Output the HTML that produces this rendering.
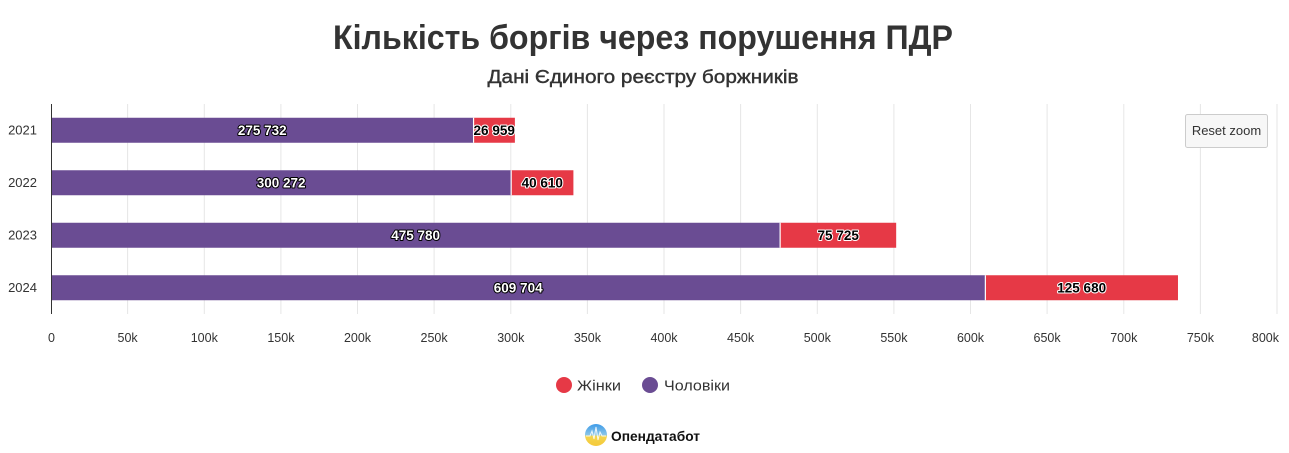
<!DOCTYPE html>
<html>
<head>
<meta charset="utf-8">
<style>
  html, body { margin: 0; padding: 0; background: #ffffff; }
  body { width: 1289px; height: 453px; overflow: hidden; }
  svg { display: block; font-family: "Liberation Sans", "DejaVu Sans", sans-serif; }
  .dl { font-size: 13.5px; font-weight: bold; paint-order: stroke fill; stroke-linejoin: round; }
  .dlw { fill: #ffffff; stroke: #000000; stroke-width: 2px; }
  .dlb { fill: #000000; stroke: #ffffff; stroke-width: 2px; }
  .ax { font-size: 12.5px; fill: #333333; }
</style>
</head>
<body>
<svg width="1289" height="453" viewBox="0 0 1289 453" xmlns="http://www.w3.org/2000/svg">
  <defs>
    <linearGradient id="lg" x1="0" y1="0" x2="0" y2="1">
      <stop offset="0" stop-color="#3d9be9"/>
      <stop offset="0.5" stop-color="#8cc6e8"/>
      <stop offset="0.55" stop-color="#f3d54e"/>
      <stop offset="1" stop-color="#f5c93a"/>
    </linearGradient>
  </defs>
  <rect width="1289" height="453" fill="#ffffff"/>

  <!-- Title -->
  <text x="643" y="49" text-anchor="middle" font-size="34" font-weight="bold" fill="#333333" textLength="620" lengthAdjust="spacingAndGlyphs">Кількість боргів через порушення ПДР</text>
  <text x="643" y="83" text-anchor="middle" font-size="18" fill="#333333" stroke="#333333" stroke-width="0.4" textLength="311" lengthAdjust="spacingAndGlyphs">Дані Єдиного реєстру боржників</text>

  <!-- Grid lines -->
  <g stroke="#e6e6e6" stroke-width="1">
    <line x1="127.6" y1="104" x2="127.6" y2="314"/>
    <line x1="204.3" y1="104" x2="204.3" y2="314"/>
    <line x1="280.9" y1="104" x2="280.9" y2="314"/>
    <line x1="357.5" y1="104" x2="357.5" y2="314"/>
    <line x1="434.1" y1="104" x2="434.1" y2="314"/>
    <line x1="510.8" y1="104" x2="510.8" y2="314"/>
    <line x1="587.4" y1="104" x2="587.4" y2="314"/>
    <line x1="664.0" y1="104" x2="664.0" y2="314"/>
    <line x1="740.6" y1="104" x2="740.6" y2="314"/>
    <line x1="817.3" y1="104" x2="817.3" y2="314"/>
    <line x1="893.9" y1="104" x2="893.9" y2="314"/>
    <line x1="970.5" y1="104" x2="970.5" y2="314"/>
    <line x1="1047.1" y1="104" x2="1047.1" y2="314"/>
    <line x1="1123.8" y1="104" x2="1123.8" y2="314"/>
    <line x1="1200.4" y1="104" x2="1200.4" y2="314"/>
    <line x1="1277.0" y1="104" x2="1277.0" y2="314"/>
  </g>

  <!-- Bars -->
  <g>
    <rect x="51" y="117.75" width="422.56" height="25" fill="#6a4c93"/>
    <rect x="473.56" y="117.75" width="41.32" height="25" fill="#e63946"/>
    <line x1="473.56" y1="117.75" x2="473.56" y2="142.75" stroke="#ffffff" stroke-width="1.2"/>
    <rect x="51" y="170.25" width="460.17" height="25" fill="#6a4c93"/>
    <rect x="511.17" y="170.25" width="62.23" height="25" fill="#e63946"/>
    <line x1="511.17" y1="170.25" x2="511.17" y2="195.25" stroke="#ffffff" stroke-width="1.2"/>
    <rect x="51" y="222.75" width="729.13" height="25" fill="#6a4c93"/>
    <rect x="780.13" y="222.75" width="116.05" height="25" fill="#e63946"/>
    <line x1="780.13" y1="222.75" x2="780.13" y2="247.75" stroke="#ffffff" stroke-width="1.2"/>
    <rect x="51" y="275.25" width="934.37" height="25" fill="#6a4c93"/>
    <rect x="985.37" y="275.25" width="192.61" height="25" fill="#e63946"/>
    <line x1="985.37" y1="275.25" x2="985.37" y2="300.25" stroke="#ffffff" stroke-width="1.2"/>
  </g>

  <!-- Axis line -->
  <line x1="51.5" y1="104" x2="51.5" y2="314" stroke="#333333" stroke-width="1"/>

  <!-- Data labels -->
  <g text-anchor="middle">
    <text class="dl dlw" x="262.3" y="135">275 732</text>
    <text class="dl dlb" x="494.2" y="135">26 959</text>
    <text class="dl dlw" x="281.1" y="187.5">300 272</text>
    <text class="dl dlb" x="542.3" y="187.5">40 610</text>
    <text class="dl dlw" x="415.6" y="240">475 780</text>
    <text class="dl dlb" x="838.2" y="240">75 725</text>
    <text class="dl dlw" x="518.2" y="292.5">609 704</text>
    <text class="dl dlb" x="1081.7" y="292.5">125 680</text>
  </g>

  <!-- Y axis labels -->
  <g class="ax" text-anchor="end" style="font-size:13px">
    <text x="37" y="134.5">2021</text>
    <text x="37" y="187">2022</text>
    <text x="37" y="239.5">2023</text>
    <text x="37" y="292">2024</text>
  </g>

  <!-- X axis labels -->
  <g class="ax" text-anchor="middle">
    <text x="51.5" y="342">0</text>
    <text x="127.6" y="342">50k</text>
    <text x="204.3" y="342">100k</text>
    <text x="280.9" y="342">150k</text>
    <text x="357.5" y="342">200k</text>
    <text x="434.1" y="342">250k</text>
    <text x="510.8" y="342">300k</text>
    <text x="587.4" y="342">350k</text>
    <text x="664.0" y="342">400k</text>
    <text x="740.6" y="342">450k</text>
    <text x="817.3" y="342">500k</text>
    <text x="893.9" y="342">550k</text>
    <text x="970.5" y="342">600k</text>
    <text x="1047.1" y="342">650k</text>
    <text x="1123.8" y="342">700k</text>
    <text x="1200.4" y="342">750k</text>
    <text x="1279" y="342" text-anchor="end">800k</text>
  </g>

  <!-- Reset zoom button -->
  <rect x="1185.5" y="114.5" width="82" height="33" rx="2" ry="2" fill="#f7f7f7" stroke="#cccccc" stroke-width="1"/>
  <text x="1226.5" y="135" text-anchor="middle" font-size="13" fill="#333333">Reset zoom</text>

  <!-- Legend -->
  <circle cx="564" cy="385" r="8" fill="#e63946"/>
  <text x="577" y="390.5" font-size="15" fill="#333333" textLength="44" lengthAdjust="spacingAndGlyphs">Жінки</text>
  <circle cx="650" cy="385" r="8" fill="#6a4c93"/>
  <text x="664" y="390.5" font-size="15" fill="#333333" textLength="66" lengthAdjust="spacingAndGlyphs">Чоловіки</text>

  <!-- Logo -->
  <circle cx="596" cy="435" r="11" fill="url(#lg)"/>
  <path d="M586 436 L590 436 L592 431 L594 439 L596 427 L598 440 L600 432 L602 436 L606 436" fill="none" stroke="#ffffff" stroke-width="1" stroke-opacity="0.85"/>
  <text x="611" y="441" font-size="14" font-weight="bold" fill="#111111" textLength="89" lengthAdjust="spacingAndGlyphs">Опендатабот</text>
</svg>
</body>
</html>
